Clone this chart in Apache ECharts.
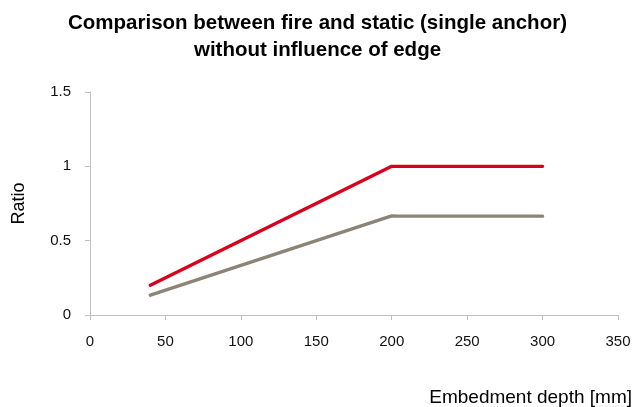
<!DOCTYPE html>
<html>
<head>
<meta charset="utf-8">
<script src="https://cdn.jsdelivr.net/npm/echarts@6/dist/echarts.min.js"></script>
<style>
  html, body { margin: 0; padding: 0; background: #fff; }
  #chart { width: 635px; height: 407px; }
</style>
</head>
<body>
<div id="chart"></div>
<script>
// Embedment depth [mm] and the fire/static ratio for each curve
const depthFire = [40, 200, 204, 300];
const ratioFire = [0.2, 1.0, 1.0, 1.0];
const depthStatic = [40, 200, 204, 300];
const ratioStatic = [0.133, 0.667, 0.665, 0.665];
const xTicks = [0, 50, 100, 150, 200, 250, 300, 350];
const yTicks = [0, 0.5, 1, 1.5];

const font = '"Liberation Sans", Arial, Helvetica, sans-serif';
const toPairs = (xs, ys) => xs.map((x, i) => [x, ys[i]]);

const chart = echarts.init(document.getElementById('chart'));
chart.setOption({
  animation: false,
  title: {
    text: 'Comparison between fire and static (single anchor)\nwithout influence of edge',
    left: 'center',
    top: 5,
    textStyle: { fontFamily: font, fontSize: 20.5, fontWeight: 'bold', color: '#000', lineHeight: 27 }
  },
  grid: { left: 90, right: 17, top: 92, bottom: 91 },
  xAxis: {
    type: 'value',
    min: xTicks[0],
    max: xTicks[xTicks.length - 1],
    interval: 50,
    name: 'Embedment depth [mm]',
    nameLocation: 'end',
    nameGap: 14,
    nameTextStyle: { fontFamily: font, fontSize: 19, color: '#000', align: 'right', verticalAlign: 'top', padding: [73, 0, 0, 0] },
    axisLine: { lineStyle: { color: '#c0c0c0', width: 1 } },
    axisTick: { show: true, length: 5, lineStyle: { color: '#c0c0c0' } },
    axisLabel: { fontFamily: font, fontSize: 15, color: '#111', margin: 19 },
    splitLine: { show: false }
  },
  yAxis: {
    type: 'value',
    min: yTicks[0],
    max: yTicks[yTicks.length - 1],
    interval: 0.5,
    name: 'Ratio',
    nameLocation: 'middle',
    nameGap: 62,
    nameTextStyle: { fontFamily: font, fontSize: 18, color: '#000' },
    axisLine: { show: true, lineStyle: { color: '#c0c0c0', width: 1 } },
    axisTick: { show: true, length: 5, lineStyle: { color: '#c0c0c0' } },
    axisLabel: { fontFamily: font, fontSize: 15, color: '#111', margin: 19 },
    splitLine: { show: false }
  },
  series: [
    {
      type: 'line',
      name: 'fire',
      data: toPairs(depthFire, ratioFire),
      showSymbol: false,
      lineStyle: { color: '#d9001e', width: 3.4, cap: 'round', join: 'round' },
      itemStyle: { color: '#d9001e' }
    },
    {
      type: 'line',
      name: 'static',
      data: toPairs(depthStatic, ratioStatic),
      showSymbol: false,
      lineStyle: { color: '#8c8576', width: 3.4, cap: 'round', join: 'round' },
      itemStyle: { color: '#8c8576' }
    }
  ]
});
</script>
</body>
</html>
